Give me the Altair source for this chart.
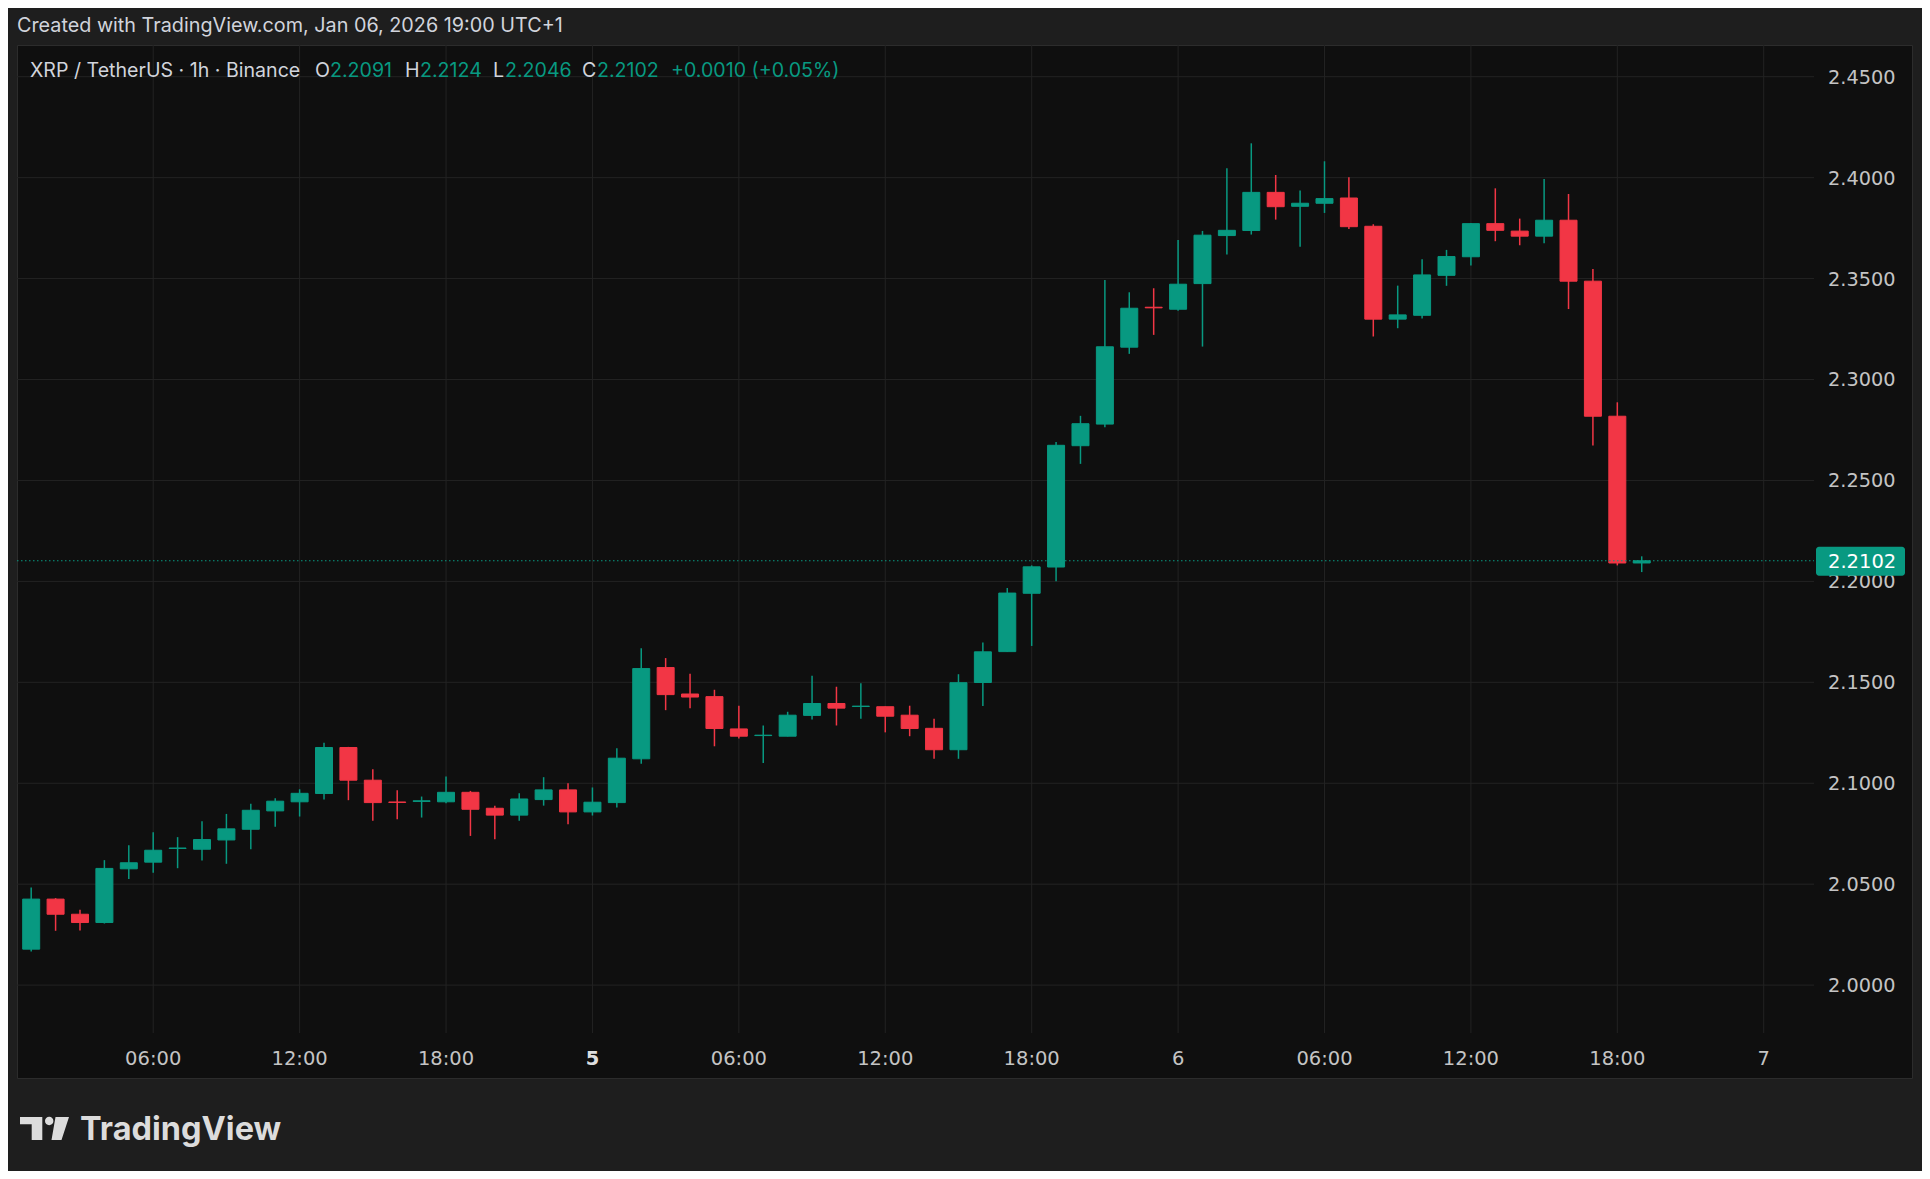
import altair as alt
import pandas as pd

# ---------------- data ----------------
# hour index counted from Jan 4 00:00 (UTC+1); 1h candles Jan 4 01:00 .. Jan 6 19:00
hours = list(range(1, 68))
opens = [2.0178, 2.0426, 2.0351, 2.0310, 2.0576, 2.0609, 2.0677, 2.0673, 2.0719, 2.0772,
         2.0863, 2.0908, 2.0949, 2.1177, 2.1015, 2.0907, 2.0910, 2.0908, 2.0955, 2.0876,
         2.0842, 2.0919, 2.0967, 2.0858, 2.0904, 2.1121, 2.1573, 2.1442, 2.1429, 2.1269,
         2.1236, 2.1233, 2.1336, 2.1395, 2.1380, 2.1379, 2.1337, 2.1272, 2.1166, 2.1499,
         2.1652, 2.1941, 2.2071, 2.2672, 2.2779, 2.3160, 2.3358, 2.3348, 2.3475, 2.3713,
         2.3738, 2.3927, 2.3858, 2.3873, 2.3899, 2.3759, 2.3299, 2.3318, 2.3516, 2.3608,
         2.3772, 2.3735, 2.3710, 2.3789, 2.3487, 2.2818, 2.2091]
highs = [2.0484, 2.0431, 2.0373, 2.0619, 2.0693, 2.0757, 2.0733, 2.0812, 2.0848, 2.0898,
         2.0926, 2.0970, 2.1201, 2.1180, 2.1069, 2.0965, 2.0934, 2.1033, 2.0962, 2.0889,
         2.0950, 2.1030, 2.1000, 2.0979, 2.1173, 2.1669, 2.1620, 2.1542, 2.1463, 2.1384,
         2.1286, 2.1354, 2.1532, 2.1478, 2.1495, 2.1380, 2.1384, 2.1319, 2.1540, 2.1697,
         2.1967, 2.2079, 2.2690, 2.2820, 2.3493, 2.3432, 2.3452, 2.3691, 2.3736, 2.4046,
         2.4170, 2.4013, 2.3936, 2.4081, 2.4002, 2.3769, 2.3465, 2.3596, 2.3642, 2.3775,
         2.3947, 2.3797, 2.3993, 2.3919, 2.3547, 2.2887, 2.2124]
lows = [2.0167, 2.0269, 2.0271, 2.0305, 2.0526, 2.0556, 2.0579, 2.0617, 2.0601, 2.0673,
        2.0784, 2.0835, 2.0919, 2.0916, 2.0814, 2.0822, 2.0830, 2.0901, 2.0739, 2.0723,
        2.0814, 2.0889, 2.0797, 2.0840, 2.0880, 2.1096, 2.1362, 2.1372, 2.1183, 2.1221,
        2.1100, 2.1232, 2.1316, 2.1286, 2.1319, 2.1252, 2.1233, 2.1121, 2.1121, 2.1383,
        2.1650, 2.1680, 2.2000, 2.2582, 2.2763, 2.3127, 2.3221, 2.3340, 2.3163, 2.3619,
        2.3718, 2.3792, 2.3657, 2.3825, 2.3746, 2.3213, 2.3254, 2.3302, 2.3464, 2.3565,
        2.3685, 2.3665, 2.3675, 2.3349, 2.2673, 2.2079, 2.2046]
closes = [2.0426, 2.0351, 2.0310, 2.0578, 2.0606, 2.0668, 2.0679, 2.0721, 2.0774, 2.0866,
          2.0911, 2.0950, 2.1177, 2.1015, 2.0904, 2.0905, 2.0913, 2.0955, 2.0871, 2.0842,
          2.0922, 2.0967, 2.0858, 2.0906, 2.1124, 2.1568, 2.1439, 2.1427, 2.1271, 2.1233,
          2.1238, 2.1337, 2.1395, 2.1372, 2.1382, 2.1332, 2.1271, 2.1166, 2.1498, 2.1651,
          2.1942, 2.2072, 2.2674, 2.2781, 2.3162, 2.3353, 2.3355, 2.3472, 2.3715, 2.3739,
          2.3927, 2.3856, 2.3873, 2.3896, 2.3757, 2.3299, 2.3320, 2.3518, 2.3609, 2.3772,
          2.3739, 2.3710, 2.3789, 2.3487, 2.2818, 2.2091, 2.2102]

x_tick_hours = [6, 12, 18, 24, 30, 36, 42, 48, 54, 60, 66, 72]
x_tick_labels = ["06:00", "12:00", "18:00", "5", "06:00", "12:00", "18:00", "6",
                 "06:00", "12:00", "18:00", "7"]
x_tick_bold = [False, False, False, True, False, False, False, False,
               False, False, False, False]
y_ticks = [2.00, 2.05, 2.10, 2.15, 2.20, 2.25, 2.30, 2.35, 2.40, 2.45]
y_tick_labels = ["2.0000", "2.0500", "2.1000", "2.1500", "2.2000", "2.2500",
                 "2.3000", "2.3500", "2.4000", "2.4500"]

last_price = 2.2102
last_price_label = "2.2102"
header_text = "Created with TradingView.com, Jan 06, 2026 19:00 UTC+1"
symbol_text = "XRP / TetherUS · 1h · Binance"
ohlc_letters = ["O", "H", "L", "C"]
ohlc_values = ["2.2091", "2.2124", "2.2046", "2.2102"]
change_text = "+0.0010 (+0.05%)"
brand_text = "TradingView"

# ---------------- styling ----------------
GREEN = "#089981"
RED = "#F23645"
OUTER_BG = "#1e1e1e"
PANEL_BG = "#0f0f0f"
PANEL_BORDER = "#2c2c2c"
GRID = "#232323"
TEXT = "#d1d4dc"
AXIS_TEXT = "#c4c4c4"
UI_FONT = "Inter"
AXIS_FONT = "DejaVu Sans"

W, H = 1797, 988
xscale = alt.Scale(domain=[0.4185, 74.06], nice=False, zero=False, padding=0)
yscale = alt.Scale(domain=[1.97627, 2.4657], nice=False, zero=False, padding=0)

df = pd.DataFrame({"h": hours, "open": opens, "high": highs, "low": lows, "close": closes})
df["dir"] = ["up" if c >= o else "down" for o, c in zip(opens, closes)]

dir_scale = alt.Scale(domain=["up", "down"], range=[GREEN, RED])
one = pd.DataFrame({"k": [0]})

# panel behind everything
panel = alt.Chart(one).mark_rect(
    fill=PANEL_BG, stroke=PANEL_BORDER, strokeWidth=1
).encode(x=alt.value(0.5), x2=alt.value(1895.5), y=alt.value(0.5), y2=alt.value(1033.5))

# grid lines
vgrid = alt.Chart(pd.DataFrame({"h": x_tick_hours})).mark_rule(
    color=GRID, strokeWidth=1
).encode(x=alt.X("h:Q", scale=xscale, axis=None), y=alt.value(0), y2=alt.value(H))
hgrid = alt.Chart(pd.DataFrame({"p": y_ticks})).mark_rule(
    color=GRID, strokeWidth=1
).encode(y=alt.Y("p:Q", scale=yscale, axis=None), x=alt.value(0), x2=alt.value(W))

base = alt.Chart(df)
wicks = base.mark_rule(strokeWidth=1.5).encode(
    x=alt.X("h:Q", scale=xscale, axis=None),
    y=alt.Y("low:Q", scale=yscale, axis=None),
    y2="high:Q",
    color=alt.Color("dir:N", scale=dir_scale, legend=None),
)
bodies = base.mark_bar(size=17, strokeWidth=1).encode(
    x=alt.X("h:Q", scale=xscale, axis=None),
    y=alt.Y("open:Q", scale=yscale, axis=None),
    y2="close:Q",
    color=alt.Color("dir:N", scale=dir_scale, legend=None),
    stroke=alt.Stroke("dir:N", scale=dir_scale, legend=None),
)

lp = pd.DataFrame({"p": [last_price], "lab": [last_price_label]})
price_line = alt.Chart(lp).mark_rule(
    color=GREEN, strokeWidth=1.2, strokeDash=[1.5, 2.5]
).encode(y=alt.Y("p:Q", scale=yscale, axis=None), x=alt.value(0), x2=alt.value(W))

# y tick labels
ylabels = alt.Chart(pd.DataFrame({"p": y_ticks, "lab": y_tick_labels})).mark_text(
    align="left", baseline="middle", font=AXIS_FONT, fontSize=19.3, color=AXIS_TEXT, dy=1
).encode(x=alt.value(1811), y=alt.Y("p:Q", scale=yscale, axis=None), text="lab:N")

price_box = alt.Chart(lp).mark_rect(
    fill=GREEN, cornerRadius=3, yOffset=-14, y2Offset=15
).encode(x=alt.value(1799), x2=alt.value(1888),
         y=alt.Y("p:Q", scale=yscale, axis=None), y2="p:Q")
price_text = alt.Chart(lp).mark_text(
    align="left", baseline="middle", font=AXIS_FONT, fontSize=19.5, color="#ffffff", dy=1
).encode(x=alt.value(1811), y=alt.Y("p:Q", scale=yscale, axis=None), text="lab:N")

# x tick labels
xt = pd.DataFrame({"h": x_tick_hours, "lab": x_tick_labels, "bold": x_tick_bold})
xlabels = alt.Chart(xt).transform_filter("!datum.bold").mark_text(
    align="center", baseline="middle", font=AXIS_FONT, fontSize=19.5, color=AXIS_TEXT
).encode(x=alt.X("h:Q", scale=xscale, axis=None), y=alt.value(1014), text="lab:N")
xboldlabels = alt.Chart(xt).transform_filter("datum.bold").mark_text(
    align="center", baseline="middle", font=AXIS_FONT, fontSize=19.5, fontWeight="bold",
    color="#dedede"
).encode(x=alt.X("h:Q", scale=xscale, axis=None), y=alt.value(1014), text="lab:N")


def label(txt, x, y, size, color, weight="normal", font=UI_FONT, baseline="middle"):
    return alt.Chart(one).mark_text(
        text=txt, font=font, fontSize=size, fontWeight=weight, color=color,
        align="left", baseline=baseline
    ).encode(x=alt.value(x), y=alt.value(y))


header = label(header_text, 0, -19, 19.8, TEXT)
legend_layers = [label(symbol_text, 13, 26, 19.6, TEXT)]
letter_x = [298, 388, 476, 565]
value_x = [313, 403, 488, 580]
for letter, lx, val, vx in zip(ohlc_letters, letter_x, ohlc_values, value_x):
    legend_layers.append(label(letter, lx, 26, 19.6, TEXT))
    legend_layers.append(label(val, vx, 26, 19.6, GREEN))
legend_layers.append(label(change_text, 654, 26, 19.6, GREEN))

brand = label(brand_text, 63, 1095, 32.5, "#dcdcdc", weight="bold", baseline="alphabetic")

# TradingView logo mark as a custom symbol path (page coords converted to unit square)
cx, cy, half = 44.5, 1128.5, 24.5


def u(px, py):
    return f"{(px - cx) / half:.4f},{(py - cy) / half:.4f}"


t_shape = [(20, 1117), (42.3, 1117), (42.3, 1140), (31.7, 1140), (31.7, 1124.3), (20, 1124.3)]
slant = [(55.5, 1117), (69, 1117), (61.5, 1140), (51.5, 1140)]
r = 4.2 / half
ccx, ccy = (49.2 - cx) / half, (1121.0 - cy) / half
path = "M" + " L".join(u(*p) for p in t_shape) + " Z "
path += "M" + " L".join(u(*p) for p in slant) + " Z "
path += (f"M{ccx - r:.4f},{ccy:.4f} A{r:.4f},{r:.4f} 0 1,0 {ccx + r:.4f},{ccy:.4f} "
         f"A{r:.4f},{r:.4f} 0 1,0 {ccx - r:.4f},{ccy:.4f} Z")
logo = alt.Chart(one).mark_point(
    shape=path, size=(2 * half) ** 2, filled=True, fill="#dcdcdc", strokeWidth=0, opacity=1
).encode(x=alt.value(cx - 17), y=alt.value(cy - 45))

chart = alt.layer(
    panel, vgrid, hgrid, wicks, bodies, price_line, ylabels, price_box, price_text,
    xlabels, xboldlabels, header, *legend_layers, brand, logo
).properties(
    width=W, height=H,
    autosize=alt.AutoSizeParams(type="none"),
    padding={"left": 9, "top": 37, "right": 108, "bottom": 138},
    background=OUTER_BG,
).configure_view(strokeWidth=0)

chart.save("out.html", embed_options={"renderer": "svg", "actions": False})
